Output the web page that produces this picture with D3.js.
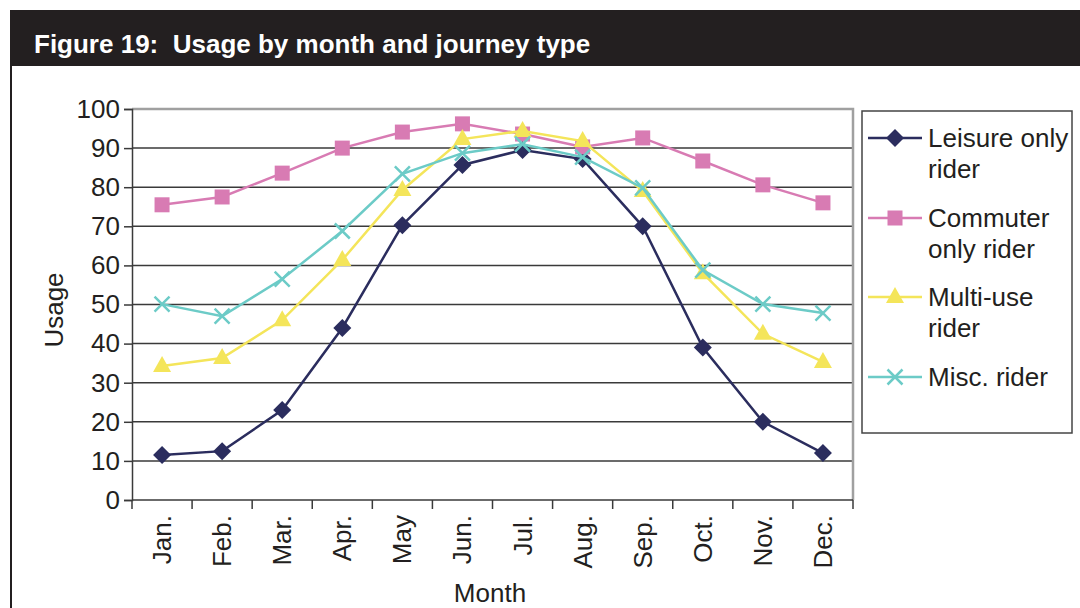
<!DOCTYPE html>
<html>
<head>
<meta charset="utf-8">
<script src="https://cdn.jsdelivr.net/npm/d3@7"></script>
<style>
  body { margin: 0; background: #fff; }
  svg { display: block; font-family: "Liberation Sans", Arial, sans-serif; }
</style>
</head>
<body>
<svg id="chart" width="1080" height="608"></svg>
<script>
// data
var months = ["Jan.", "Feb.", "Mar.", "Apr.", "May", "Jun.", "Jul.", "Aug.", "Sep.", "Oct.", "Nov.", "Dec."];
var leisure  = [11.5, 12.5, 23, 44, 70.3, 85.7, 89.5, 87.2, 70, 39, 20, 12];
var commuter = [75.5, 77.5, 83.6, 90, 94.1, 96.2, 93.6, 90.3, 92.6, 86.7, 80.6, 76];
var multiUse = [34.3, 36.3, 46, 61.4, 79.3, 92.3, 94.4, 91.8, 79, 58, 42.5, 35.3];
var misc     = [50.1, 47, 56.5, 68.8, 83.4, 88.7, 91, 87.7, 79.8, 58.8, 50.1, 47.8];
var yTicks = [0, 10, 20, 30, 40, 50, 60, 70, 80, 90, 100];

var series = [
  {name: ["Leisure only", "rider"], values: leisure, color: "#2b2d5e", shape: "diamond"},
  {name: ["Commuter", "only rider"], values: commuter, color: "#d87bb3", shape: "square"},
  {name: ["Multi-use", "rider"], values: multiUse, color: "#f4e55a", shape: "triangle"},
  {name: ["Misc. rider"], values: misc, color: "#6ccbc7", shape: "cross"}
];

var svg = d3.select("#chart");
var fs = 26;

// header bar + frame
svg.append("rect").attr("x", 10).attr("y", 10).attr("width", 1070).attr("height", 56).attr("fill", "#231f20");
svg.append("line").attr("x1", 11).attr("x2", 11).attr("y1", 66).attr("y2", 608)
  .attr("stroke", "#231f20").attr("stroke-width", 2);
svg.append("text").attr("x", 34).attr("y", 53)
  .attr("fill", "#fff").attr("font-size", 26).attr("font-weight", "bold")
  .attr("xml:space", "preserve")
  .text("Figure 19:  Usage by month and journey type");

var plotLeft = 132, plotRight = 853, plotTop = 109, plotBottom = 500;

var x = d3.scaleBand().domain(months).range([plotLeft, plotRight]);
var y = d3.scaleLinear().domain([0, 100]).range([plotBottom, plotTop]);

// gridlines
svg.append("g").selectAll("line").data(yTicks.filter(function(d){ return d > 0 && d < 100; }))
  .enter().append("line")
  .attr("x1", plotLeft).attr("x2", plotRight)
  .attr("y1", function(d){ return y(d); }).attr("y2", function(d){ return y(d); })
  .attr("stroke", "#3a3a3a").attr("stroke-width", 1.5);

// plot border (top/right gray)
svg.append("path")
  .attr("d", "M" + plotLeft + "," + plotTop + "H" + plotRight + "V" + plotBottom)
  .attr("fill", "none").attr("stroke", "#a0a0a0").attr("stroke-width", 2.5);

// y axis
var yAxis = svg.append("g").attr("transform", "translate(" + plotLeft + ",0)")
  .call(d3.axisLeft(y).tickValues(yTicks).tickSize(8).tickPadding(4));
yAxis.select(".domain").attr("stroke", "#3a3a3a").attr("stroke-width", 1.5);
yAxis.selectAll(".tick line").attr("stroke", "#3a3a3a").attr("stroke-width", 1.5);
yAxis.selectAll("text").attr("font-size", fs).attr("fill", "#231f20")
  .attr("font-family", "Liberation Sans, Arial, sans-serif");

// x axis: ticks at category boundaries
var xAxis = svg.append("g").attr("transform", "translate(0," + plotBottom + ")");
xAxis.append("line").attr("x1", plotLeft).attr("x2", plotRight).attr("stroke", "#3a3a3a").attr("stroke-width", 1.5);
var bounds = months.map(function(m){ return x(m); }).concat([x(months[11]) + x.bandwidth()]);
xAxis.selectAll("line.tk").data(bounds).enter().append("line").attr("class", "tk")
  .attr("x1", function(d){ return d; }).attr("x2", function(d){ return d; })
  .attr("y1", 0).attr("y2", 9).attr("stroke", "#3a3a3a").attr("stroke-width", 1.5);
xAxis.selectAll("text").data(months).enter().append("text")
  .attr("transform", function(d){ return "translate(" + (x(d) + x.bandwidth()/2 + 9) + ",15) rotate(-90)"; })
  .attr("text-anchor", "end").attr("font-size", fs).attr("fill", "#231f20")
  .text(function(d){ return d; });

// axis titles
svg.append("text").attr("transform", "translate(63,310) rotate(-90)")
  .attr("text-anchor", "middle").attr("font-size", fs).attr("fill", "#231f20").text("Usage");
svg.append("text").attr("x", 490).attr("y", 602)
  .attr("text-anchor", "middle").attr("font-size", fs).attr("fill", "#231f20").text("Month");

function drawMarker(g, shape, color) {
  if (shape === "diamond") {
    g.append("path").attr("d", "M0,-9L9,0L0,9L-9,0Z").attr("fill", color);
  } else if (shape === "square") {
    g.append("rect").attr("x", -7.5).attr("y", -7.5).attr("width", 15).attr("height", 15).attr("fill", color);
  } else if (shape === "triangle") {
    g.append("path").attr("d", "M0,-10L9,6L-9,6Z").attr("fill", color);
  } else {
    g.append("path").attr("d", "M-7.5,-7.5L7.5,7.5M-7.5,7.5L7.5,-7.5").attr("stroke", color).attr("stroke-width", 2.5);
  }
}

var line = d3.line()
  .x(function(d, i){ return x(months[i]) + x.bandwidth()/2; })
  .y(function(d){ return y(d); });

series.forEach(function(s) {
  svg.append("path").datum(s.values)
    .attr("d", line).attr("fill", "none").attr("stroke", s.color).attr("stroke-width", 2.5);
  s.values.forEach(function(v, i) {
    var g = svg.append("g").attr("transform", "translate(" + (x(months[i]) + x.bandwidth()/2) + "," + y(v) + ")");
    drawMarker(g, s.shape, s.color);
  });
});

// legend
svg.append("rect").attr("x", 862).attr("y", 111).attr("width", 210).attr("height", 322)
  .attr("fill", "none").attr("stroke", "#444").attr("stroke-width", 1.5);
var legendRows = [138, 218, 297, 377];
series.forEach(function(s, k) {
  var ly = legendRows[k];
  svg.append("line").attr("x1", 868).attr("x2", 922).attr("y1", ly).attr("y2", ly)
    .attr("stroke", s.color).attr("stroke-width", 2.5);
  drawMarker(svg.append("g").attr("transform", "translate(895," + ly + ")"), s.shape, s.color);
  s.name.forEach(function(t, j) {
    svg.append("text").attr("x", 928).attr("y", ly + 9 + j * 31)
      .attr("font-size", fs).attr("fill", "#231f20").text(t);
  });
});
</script>
</body>
</html>
